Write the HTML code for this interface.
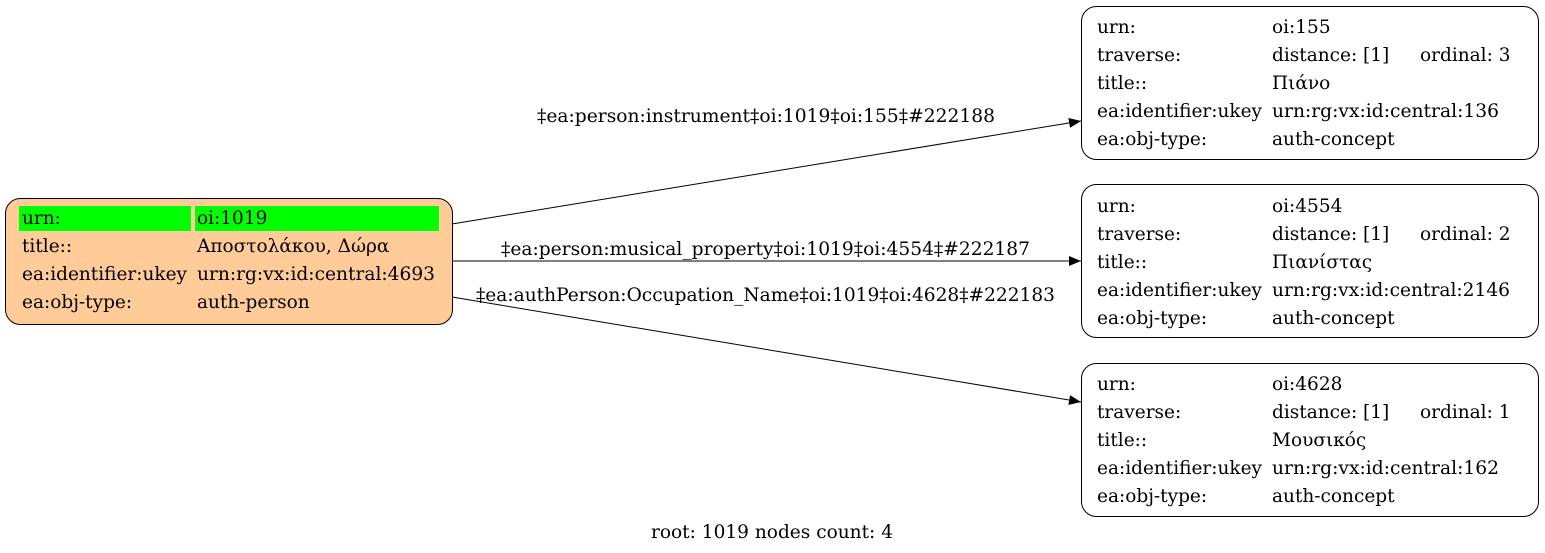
<!DOCTYPE html>
<html><head><meta charset="utf-8"><style>
html,body{margin:0;padding:0;background:#fff;}
svg{display:block;}
text{font-family:"DejaVu Serif","Liberation Serif",serif;font-size:18.5px;fill:#000;}
</style></head><body>
<svg width="1545" height="553" viewBox="0 0 1545 553" xmlns="http://www.w3.org/2000/svg">
<defs><marker id="a" markerWidth="12" markerHeight="10" refX="12" refY="5" orient="auto" markerUnits="userSpaceOnUse"><path d="M0,0 L12,5 L0,10 z" fill="#000"/></marker></defs>
<line x1="452" y1="224" x2="1081" y2="121" stroke="#000" stroke-width="1" marker-end="url(#a)"/>
<line x1="452" y1="261" x2="1081" y2="261" stroke="#000" stroke-width="1" marker-end="url(#a)"/>
<line x1="452" y1="297" x2="1081" y2="402" stroke="#000" stroke-width="1" marker-end="url(#a)"/>
<text x="537" y="122" textLength="458" lengthAdjust="spacingAndGlyphs">‡ea:person:instrument‡oi:1019‡oi:155‡#222188</text>
<text x="501" y="255" textLength="529" lengthAdjust="spacingAndGlyphs">‡ea:person:musical_property‡oi:1019‡oi:4554‡#222187</text>
<text x="476" y="301" textLength="579" lengthAdjust="spacingAndGlyphs">‡ea:authPerson:Occupation_Name‡oi:1019‡oi:4628‡#222183</text>
<rect x="5.5" y="198.5" width="447" height="126" rx="15" fill="#ffcc99" stroke="#000"/>
<rect x="19" y="206" width="172" height="25" fill="#00ff00"/>
<rect x="195" y="206" width="244" height="25" fill="#00ff00"/>
<text x="22" y="224">urn:</text><text x="197" y="224">oi:1019</text>
<text x="22" y="252">title::</text><text x="197" y="252">Αποστολάκου, Δώρα</text>
<text x="22" y="280" textLength="165" lengthAdjust="spacingAndGlyphs">ea:identifier:ukey</text><text x="197" y="280" textLength="238" lengthAdjust="spacingAndGlyphs">urn:rg:vx:id:central:4693</text>
<text x="22" y="308">ea:obj-type:</text><text x="197" y="308">auth-person</text>
<g>
<rect x="1081.5" y="6.5" width="457" height="153" rx="15" fill="#fff" stroke="#000"/>
<text x="1097" y="33">urn:</text><text x="1272" y="33">oi:155</text>
<text x="1097" y="61">traverse:</text><text x="1272" y="61">distance: [1]</text><text x="1420" y="61">ordinal: 3</text>
<text x="1097" y="89">title::</text><text x="1272" y="89">Πιάνο</text>
<text x="1097" y="117" textLength="165" lengthAdjust="spacingAndGlyphs">ea:identifier:ukey</text><text x="1272" y="117" textLength="227" lengthAdjust="spacingAndGlyphs">urn:rg:vx:id:central:136</text>
<text x="1097" y="145">ea:obj-type:</text><text x="1272" y="145">auth-concept</text>
</g>
<g>
<rect x="1081.5" y="184.5" width="457" height="153" rx="15" fill="#fff" stroke="#000"/>
<text x="1097" y="212">urn:</text><text x="1272" y="212">oi:4554</text>
<text x="1097" y="240">traverse:</text><text x="1272" y="240">distance: [1]</text><text x="1420" y="240">ordinal: 2</text>
<text x="1097" y="268">title::</text><text x="1272" y="268">Πιανίστας</text>
<text x="1097" y="296" textLength="165" lengthAdjust="spacingAndGlyphs">ea:identifier:ukey</text><text x="1272" y="296" textLength="238" lengthAdjust="spacingAndGlyphs">urn:rg:vx:id:central:2146</text>
<text x="1097" y="324">ea:obj-type:</text><text x="1272" y="324">auth-concept</text>
</g>
<g>
<rect x="1081.5" y="363.5" width="457" height="153" rx="15" fill="#fff" stroke="#000"/>
<text x="1097" y="390">urn:</text><text x="1272" y="390">oi:4628</text>
<text x="1097" y="418">traverse:</text><text x="1272" y="418">distance: [1]</text><text x="1420" y="418">ordinal: 1</text>
<text x="1097" y="446">title::</text><text x="1272" y="446">Μουσικός</text>
<text x="1097" y="474" textLength="165" lengthAdjust="spacingAndGlyphs">ea:identifier:ukey</text><text x="1272" y="474" textLength="227" lengthAdjust="spacingAndGlyphs">urn:rg:vx:id:central:162</text>
<text x="1097" y="502">ea:obj-type:</text><text x="1272" y="502">auth-concept</text>
</g>
<text x="651" y="538" textLength="242" lengthAdjust="spacingAndGlyphs">root: 1019 nodes count: 4</text>
</svg>
</body></html>
